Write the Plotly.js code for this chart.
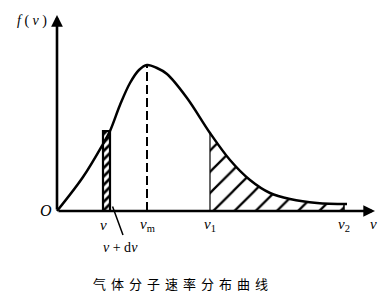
<!DOCTYPE html>
<html>
<head>
<meta charset="utf-8">
<script src="https://cdn.plot.ly/plotly-3.0.1.min.js"></script>
<style>html,body{margin:0;padding:0;background:#fff;}#chart{width:387px;height:300px;}</style>
</head>
<body>
<div id="chart"></div>
<script>
// speed v (arbitrary units) and distribution f(v)
const curveV = [0, 26, 46, 53, 63, 73, 82, 90, 100, 110, 130, 153, 173, 193, 213, 233, 260, 290];
const curveF = [0, 34, 67, 80, 106, 128, 141, 146, 143, 137, 113, 78, 51, 31, 18, 12, 8, 7];

// marked speeds
const vStrip = [46, 53];      // v and v + dv
const stripTop = 80;          // f at the strip
const vMost = 90;             // v_m
const vMostF = 146;
const v1 = 153;
const v1F = 78;
const v2 = 287;
const v2F = 7;

// axis extents
const axisXEnd = 318;
const axisYEnd = 196;

// texts
const axisYLabel = '<i>f</i> ( <i>v</i> )';
const axisXLabel = '<i>v</i>';
const originLabel = '<i>O</i>';
const tickTexts = ['<i>v</i>', '<i>v</i><sub>m</sub>', '<i>v</i><sub>1</sub>', '<i>v</i><sub>2</sub>'];
const tickPos = [vStrip[0], vMost, v1, v2];
const dvLabel = '<i>v</i> + d<i>v</i>';
const caption = '气体分子速率分布曲线';

// tail region between v1 and v2
const tailV = [], tailF = [];
curveV.forEach((v, i) => { if (v >= v1 && v <= v2) { tailV.push(v); tailF.push(curveF[i]); } });
tailV.push(v2); tailF.push(v2F);

const serif = 'Liberation Serif, Times New Roman, serif';

const traces = [
  { // hatched tail region
    x: tailV, y: tailF, mode: 'lines', line: {width: 0, shape: 'spline', color: 'rgba(0,0,0,0)'},
    fill: 'tozeroy', fillcolor: 'rgba(0,0,0,0)',
    fillpattern: {shape: '/', size: 15, solidity: 0.15, fgcolor: '#000', bgcolor: 'rgba(0,0,0,0)'},
    hoverinfo: 'skip'
  },
  { // narrow strip v .. v+dv
    x: [vStrip[0], vStrip[0], vStrip[1], vStrip[1], vStrip[0]],
    y: [0, stripTop, stripTop, 0, 0],
    mode: 'lines', line: {width: 2.2, color: '#000'},
    fill: 'toself', fillcolor: 'rgba(0,0,0,0)',
    fillpattern: {shape: '/', size: 6, solidity: 0.45, fgcolor: '#000', bgcolor: 'rgba(0,0,0,0)'},
    hoverinfo: 'skip'
  },
  { // distribution curve
    x: curveV, y: curveF, mode: 'lines',
    line: {width: 2.5, color: '#000', shape: 'spline', smoothing: 1},
    hoverinfo: 'skip'
  },
  { // v_m dashed line
    x: [vMost, vMost], y: [0, vMostF], mode: 'lines',
    line: {width: 2, color: '#000', dash: '9px,4px'}, hoverinfo: 'skip'
  },
  { // v1 edge
    x: [v1, v1], y: [0, v1F], mode: 'lines',
    line: {width: 1.2, color: '#000'}, hoverinfo: 'skip'
  },
  { // v2 edge
    x: [v2, v2], y: [0, v2F], mode: 'lines',
    line: {width: 1.5, color: '#000'}, hoverinfo: 'skip'
  }
];

const annotations = [
  {x: 0, y: axisYEnd, ax: 0, ay: 0, axref: 'x', ayref: 'y', xref: 'x', yref: 'y', text: '',
   showarrow: true, arrowhead: 2, arrowsize: 0.9, arrowwidth: 2.6, arrowcolor: '#000', standoff: 0, startstandoff: 0},
  {x: axisXEnd, y: 0, ax: 0, ay: 0, axref: 'x', ayref: 'y', xref: 'x', yref: 'y', text: '',
   showarrow: true, arrowhead: 2, arrowsize: 0.9, arrowwidth: 2.6, arrowcolor: '#000', standoff: 0, startstandoff: 0},
  {x: 66, y: -24, ax: 55, ay: 6, axref: 'x', ayref: 'y', xref: 'x', yref: 'y', text: '',
   showarrow: true, arrowhead: 0, arrowwidth: 1.5, arrowcolor: '#000', standoff: 0, startstandoff: 0},
  {x: -25, y: 190, text: axisYLabel, showarrow: false, font: {family: serif, size: 14, color: '#000'}},
  {x: -11, y: 1, text: originLabel, showarrow: false, font: {family: serif, size: 16, color: '#000'}},
  {x: 316, y: -13, text: axisXLabel, showarrow: false, font: {family: serif, size: 15, color: '#000'}},
  {x: 63, y: -36, text: dvLabel, showarrow: false, font: {family: serif, size: 14, color: '#000'}},
  {x: 126, y: -72, text: '<span style="letter-spacing:5px">' + caption + '</span>', showarrow: false,
   font: {family: 'Noto Sans CJK SC, sans-serif', size: 13, color: '#000'}}
];
tickTexts.forEach((t, i) => {
  annotations.push({x: tickPos[i], y: -14, text: t, showarrow: false, font: {family: serif, size: 15, color: '#000'}});
});

const layout = {
  width: 387, height: 300,
  margin: {l: 0, r: 0, t: 0, b: 0, pad: 0},
  paper_bgcolor: '#fff', plot_bgcolor: '#fff',
  showlegend: false,
  xaxis: {range: [-57, 330], visible: false, fixedrange: true},
  yaxis: {range: [-89, 211], visible: false, fixedrange: true},
  annotations: annotations
};

Plotly.newPlot('chart', traces, layout, {staticPlot: true, displayModeBar: false});
</script>
</body>
</html>
